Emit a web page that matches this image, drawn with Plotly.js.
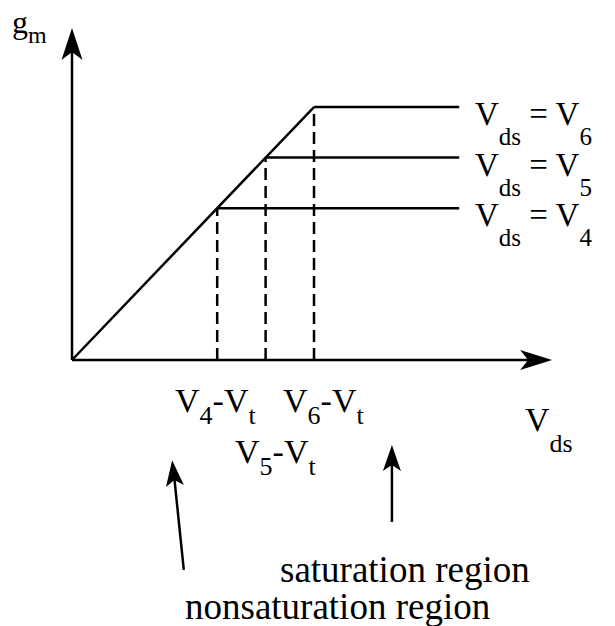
<!DOCTYPE html>
<html>
<head>
<meta charset="utf-8">
<script src="https://cdn.plot.ly/plotly-3.0.1.min.js"></script>
<style>html,body{margin:0;padding:0;background:#fff;}#chart{width:615px;height:626px;}</style>
</head>
<body>
<div id="chart"></div>
<script>
// ---- data (units: Vds in arbitrary steps, gm proportional) ----
const satVds = [3, 4, 5];          // V4-Vt, V5-Vt, V6-Vt
const satGm = [3, 4, 5];           // gm at saturation onset
const plateauEnd = 8;              // end of drawn flat region
const curveSubs = ['4', '5', '6'];
const tickSubs = ['4', '5', '6'];
const xTitleMain = 'V', xTitleSub = 'ds';
const yTitleMain = 'g', yTitleSub = 'm';
const regionLabels = ['saturation region', 'nonsaturation region'];

// ---- layout geometry ----
const W = 615, H = 626;
const xr = [-1.4876, 11.219], yr = [-5.257, 7.115];
const sx = W / (xr[1] - xr[0]), sy = H / (yr[1] - yr[0]);
const FONT = 'Liberation Serif, Times New Roman, serif';
const LW = 2.5;
const sub = (s, px, drop) => `<sub><span style="font-size:${px}px;baseline-shift:-${drop}px">${s}</span></sub>`;

const traces = [];
const line = {color: '#000', width: LW};
// linear (nonsaturation) part
traces.push({x: [0, satVds[satVds.length - 1]], y: [0, satGm[satGm.length - 1]], mode: 'lines', line: line, hoverinfo: 'skip'});
satVds.forEach((v, i) => {
  traces.push({x: [v, plateauEnd], y: [satGm[i], satGm[i]], mode: 'lines', line: line, hoverinfo: 'skip'});
  traces.push({x: [v, v], y: [0, satGm[i]], mode: 'lines', line: {color: '#000', width: LW, dash: '12px,6px'}, hoverinfo: 'skip'});
});

function arrowHead(tx, ty, fx, fy, L, Wd, N) {
  const dx = (tx - fx) * sx, dy = (ty - fy) * sy;
  const len = Math.hypot(dx, dy), ux = dx / len, uy = dy / len;
  const px = -uy, py = ux;
  const pt = (a, b) => [a * ux + b * px, a * uy + b * py];
  const p1 = pt(-L, Wd), p2 = pt(-L + N, 0), p3 = pt(-L, -Wd);
  const f = v => v.toFixed(2);
  return {type: 'path', xref: 'x', yref: 'y', xsizemode: 'pixel', ysizemode: 'pixel',
    xanchor: tx, yanchor: ty,
    path: `M0,0L${f(p1[0])},${f(p1[1])}L${f(p2[0])},${f(p2[1])}L${f(p3[0])},${f(p3[1])}Z`,
    fillcolor: '#000', line: {width: 0}};
}
function seg(x0, y0, x1, y1) {
  return {type: 'line', xref: 'x', yref: 'y', x0, y0, x1, y1, line: {color: '#000', width: LW}};
}

const xEnd = 9.92, yEnd = 6.56;
const shapes = [
  seg(0, 0, xEnd - 0.3, 0), arrowHead(xEnd, 0, 0, 0, 32, 10, 8),
  seg(0, 0, 0, yEnd - 0.3), arrowHead(0, yEnd, 0, 0, 32, 10.5, 8),
  seg(2.31, -4.15, 2.10, -2.2), arrowHead(2.07, -1.98, 2.31, -4.15, 26, 9, 6),
  seg(6.61, -3.2, 6.61, -1.9), arrowHead(6.61, -1.68, 6.61, -3.2, 26, 9, 6)
];

const ann = [];
const txt = (text, x, y, size, opts) => Object.assign({text, x, y, xref: 'x', yref: 'y', showarrow: false,
  font: {family: FONT, size, color: '#000'}, xanchor: 'left', yanchor: 'middle'}, opts || {});
satGm.forEach((g, i) => ann.push(txt('V' + sub('ds', 25, 13) + ' = V' + sub(curveSubs[i], 25, 13), 8.29, g, 33, {yshift: -16})));
const tickRow = [-0.85, -1.8, -0.85];
const tickShift = [-2, 10, 9];
const tickYShift = [-3, -6, -3];
satVds.forEach((v, i) => ann.push(txt('V' + sub(tickSubs[i], 26, 5) + '-V' + sub('t', 26, 5), v, tickRow[i], 34, {xanchor: 'center', xshift: tickShift[i], yshift: tickYShift[i]})));
ann.push(txt(xTitleMain + sub(xTitleSub, 26, 14), 9.32, -1.15, 34, {yshift: -11}));
ann.push(txt(yTitleMain + sub(yTitleSub, 24, 3), -1.28, 6.52, 32, {yshift: 4}));
ann.push(txt(regionLabels[0], 4.256, -4.15, 37));
ann.push(txt(regionLabels[1], 2.30, -4.88, 37));

const layout = {
  width: W, height: H, margin: {l: 0, r: 0, t: 0, b: 0},
  paper_bgcolor: '#fff', plot_bgcolor: '#fff', showlegend: false,
  xaxis: {range: xr, visible: false, fixedrange: true},
  yaxis: {range: yr, visible: false, fixedrange: true},
  shapes, annotations: ann
};
Plotly.newPlot('chart', traces, layout, {staticPlot: true, displayModeBar: false});
</script>
</body>
</html>
